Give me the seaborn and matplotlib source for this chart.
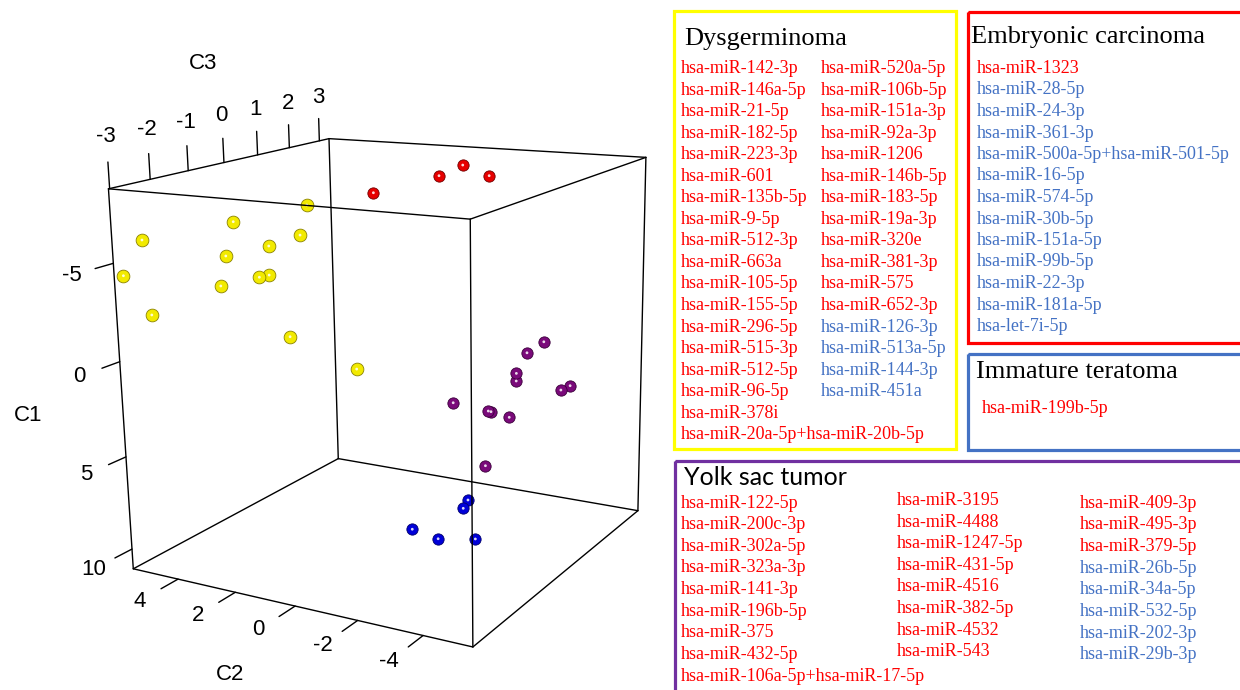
import numpy as np
import pandas as pd
import matplotlib
matplotlib.use("Agg")
import matplotlib.pyplot as plt
from matplotlib.patches import Rectangle
from mpl_toolkits.mplot3d import proj3d
import seaborn as sns

# ---------------- data: 3-D coordinates (C2, C3, C1) per tumour group ----------------
dys_c2 = [2.71, 4.74, 5.62, 3.57, 2.89, 4.68, 5.56, 3.53, 2.64, 4.39, 5.57, 2.27, 2.23]
dys_c3 = [0.00, -0.50, -2.30, 0.50, -1.00, -0.80, -2.85, -0.50, -1.50, -1.20, -2.20, -1.00, 1.00]
dys_c1 = [-6.76, -5.87, -5.76, -4.78, -5.13, -4.22, -4.28, -3.21, -3.86, -2.92, -1.84, -0.50, 2.77]

emb_c2 = [2.02, 0.42, 0.16, -1.11]
emb_c3 = [1.50, 2.20, 2.80, 2.40]
emb_c1 = [-6.78, -7.57, -7.92, -7.65]

yst_c2 = [-3.69, -3.40, -3.23, -3.14, -4.15, -4.01, -1.61, -2.49, -2.40, -3.00, -2.57]
yst_c3 = [1.50, 1.20, 1.00, 1.10, 2.00, 1.80, 0.50, 0.80, 1.00, 1.00, 0.60]
yst_c1 = [0.37, 0.80, 1.79, 2.30, 3.05, 3.16, 3.35, 3.84, 4.07, 4.23, 6.64]

imt_c2 = [-2.54, -2.57, -1.17, -1.83, -2.59]
imt_c3 = [0.00, -0.20, -0.50, -0.30, 0.20]
imt_c1 = [7.94, 8.18, 9.45, 9.98, 10.29]

c2_lim = (5.626, -5.461)
c3_lim = (-3.028, 3.334)
c1_lim = (11.091, -8.681)
c2_ticks = [4, 2, 0, -2, -4]
c3_ticks = [-3, -2, -1, 0, 1, 2, 3]
c1_ticks = [-5, 0, 5, 10]

# ---------------- data: miRNA lists (u = up / red, d = down / blue) ----------------
dys_col1 = ["hsa-miR-142-3p", "hsa-miR-146a-5p", "hsa-miR-21-5p", "hsa-miR-182-5p", "hsa-miR-223-3p",
            "hsa-miR-601", "hsa-miR-135b-5p", "hsa-miR-9-5p", "hsa-miR-512-3p", "hsa-miR-663a",
            "hsa-miR-105-5p", "hsa-miR-155-5p", "hsa-miR-296-5p", "hsa-miR-515-3p", "hsa-miR-512-5p",
            "hsa-miR-96-5p", "hsa-miR-378i", "hsa-miR-20a-5p+hsa-miR-20b-5p"]
dys_col1_dir = ["u"] * 18
dys_col2 = ["hsa-miR-520a-5p", "hsa-miR-106b-5p", "hsa-miR-151a-3p", "hsa-miR-92a-3p", "hsa-miR-1206",
            "hsa-miR-146b-5p", "hsa-miR-183-5p", "hsa-miR-19a-3p", "hsa-miR-320e", "hsa-miR-381-3p",
            "hsa-miR-575", "hsa-miR-652-3p", "hsa-miR-126-3p", "hsa-miR-513a-5p", "hsa-miR-144-3p",
            "hsa-miR-451a"]
dys_col2_dir = ["u"] * 12 + ["d"] * 4
emb_list = ["hsa-miR-1323", "hsa-miR-28-5p", "hsa-miR-24-3p", "hsa-miR-361-3p",
            "hsa-miR-500a-5p+hsa-miR-501-5p", "hsa-miR-16-5p", "hsa-miR-574-5p", "hsa-miR-30b-5p",
            "hsa-miR-151a-5p", "hsa-miR-99b-5p", "hsa-miR-22-3p", "hsa-miR-181a-5p", "hsa-let-7i-5p"]
emb_dir = ["u"] + ["d"] * 12
imt_list = ["hsa-miR-199b-5p"]
imt_dir = ["u"]
yst_col1 = ["hsa-miR-122-5p", "hsa-miR-200c-3p", "hsa-miR-302a-5p", "hsa-miR-323a-3p", "hsa-miR-141-3p",
            "hsa-miR-196b-5p", "hsa-miR-375", "hsa-miR-432-5p", "hsa-miR-106a-5p+hsa-miR-17-5p"]
yst_col1_dir = ["u"] * 9
yst_col2 = ["hsa-miR-3195", "hsa-miR-4488", "hsa-miR-1247-5p", "hsa-miR-431-5p", "hsa-miR-4516",
            "hsa-miR-382-5p", "hsa-miR-4532", "hsa-miR-543"]
yst_col2_dir = ["u"] * 8
yst_col3 = ["hsa-miR-409-3p", "hsa-miR-495-3p", "hsa-miR-379-5p", "hsa-miR-26b-5p", "hsa-miR-34a-5p",
            "hsa-miR-532-5p", "hsa-miR-202-3p", "hsa-miR-29b-3p"]
yst_col3_dir = ["u"] * 3 + ["d"] * 5

# ---------------- style ----------------
sns.set_style("white")
W, H = 1240, 690
fig = plt.figure(figsize=(12.4, 6.9), dpi=100)
fig.patch.set_facecolor("white")

ball = sns.color_palette(["#F2EA00", "#E60000", "#7A0A7A", "#0000D8"])
edge = sns.color_palette(["#8A8200", "#700000", "#3A003A", "#00006A"])
dir_color = {"u": "#FF0000", "d": "#4472C4"}
SANS = ["Liberation Sans", "DejaVu Sans"]
SERIF = ["Liberation Serif", "DejaVu Serif"]

df = pd.concat([
    pd.DataFrame({"C2": dys_c2, "C3": dys_c3, "C1": dys_c1, "group": "Dysgerminoma"}),
    pd.DataFrame({"C2": emb_c2, "C3": emb_c3, "C1": emb_c1, "group": "Embryonic carcinoma"}),
    pd.DataFrame({"C2": yst_c2, "C3": yst_c3, "C1": yst_c1, "group": "Yolk sac tumor"}),
    pd.DataFrame({"C2": imt_c2, "C3": imt_c3, "C1": imt_c1, "group": "Immature teratoma"}),
], ignore_index=True)
order = ["Dysgerminoma", "Embryonic carcinoma", "Yolk sac tumor", "Immature teratoma"]

# ---------------- 3-D scatter ----------------
ax = fig.add_axes([0.05161, 0.00123, 0.51508, 0.92566], projection="3d", computed_zorder=False)
ax.set_zorder(0)
ax.patch.set_alpha(0)
ax.set_xlim(*c2_lim)
ax.set_ylim(*c3_lim)
ax.set_zlim(*c1_lim)
ax.view_init(elev=15.266, azim=-59.358, roll=1.113)
ax.set_proj_type("persp", focal_length=0.4688)
ax.set_box_aspect((0.9996, 1.0051, 1.0))
ax.set_axis_off()
M = ax.get_proj()

x0, x1 = c2_lim
y0, y1 = c3_lim
z0, z1 = c1_lim
for (a, b) in [((x0, y0, z1), (x1, y0, z1)), ((x0, y1, z1), (x1, y1, z1)),
               ((x0, y0, z0), (x1, y0, z0)), ((x0, y1, z0), (x1, y1, z0)),
               ((x0, y0, z1), (x0, y1, z1)), ((x1, y0, z1), (x1, y1, z1)),
               ((x0, y0, z0), (x0, y1, z0)), ((x1, y0, z0), (x1, y1, z0)),
               ((x0, y0, z1), (x0, y0, z0)), ((x1, y0, z1), (x1, y0, z0)),
               ((x0, y1, z1), (x0, y1, z0)), ((x1, y1, z1), (x1, y1, z0))]:
    ax.plot([a[0], b[0]], [a[1], b[1]], [a[2], b[2]], color="black", lw=1.0, solid_capstyle="round")

tick_kw = dict(color="black", lw=1.0)
lab_kw = dict(fontsize=16, family=SANS, ha="center", va="center", color="black")


def label3d(x, y, z, s):
    px, py, _ = proj3d.proj_transform(np.array([x], float), np.array([y], float),
                                      np.array([z], float), M)
    ax.text2D(float(px[0]), float(py[0]), s, transform=ax.transData, **lab_kw)


# C3 axis (top-left edge)
for v in c3_ticks:
    ax.plot([x0, x0], [v, v], [z1, z1 - 1.29], **tick_kw)
    label3d(x0, v, z1 - 2.5, str(v))
label3d(x0, -0.45, -14.03, "C3")
# C1 axis (front-left vertical edge)
for v in c1_ticks:
    ax.plot([x0, x0], [y0, y0 - 0.435], [v, v], **tick_kw)
    label3d(x0, -3.99, v, str(v))
label3d(x0, -5.18, 0.93, "C1")
# C2 axis (bottom-front edge)
for v in c2_ticks:
    ax.plot([v, v], [y0, y0 - 0.444], [z0, z0], **tick_kw)
    label3d(v, -4.02, z0, str(v))
label3d(-0.89, -5.455, z0, "C2")

for g, fc, ec in zip(order, ball, edge):
    d = df[df["group"] == g]
    sz = 84 if g == "Dysgerminoma" else 66
    ax.scatter(d["C2"], d["C3"], d["C1"], s=sz, color=fc, edgecolors=[ec], linewidths=0.6,
               depthshade=False)
    ax.scatter(d["C2"], d["C3"], d["C1"], s=4, color="white", edgecolors="none", alpha=0.85,
               depthshade=False)

# ---------------- legend panels ----------------
ov = fig.add_axes([0, 0, 1, 1])
ov.set_zorder(2)
ov.set_xlim(0, W)
ov.set_ylim(H, 0)
ov.axis("off")
ov.patch.set_alpha(0)


def box(x, y, w, h, col):
    ov.add_patch(Rectangle((x, y), w, h, fill=False, edgecolor=col, lw=2.3, clip_on=True))


def title(x, y, s, fam=SERIF, size=19):
    ov.text(x, y, s, fontsize=size, family=fam, color="black", ha="left", va="baseline")


def column(x, y, step, names, dirs, size=13):
    for i, (n, d) in enumerate(zip(names, dirs)):
        ov.text(x, y + i * step, n, fontsize=size, family=SERIF, color=dir_color[d],
                ha="left", va="baseline")


box(673.5, 11, 282, 438, "#FFFF00")
title(684, 45, "Dysgerminoma")
column(681, 73, 21.55, dys_col1, dys_col1_dir)
column(820.5, 73, 21.55, dys_col2, dys_col2_dir)

box(967.5, 11.7, 300, 331.6, "#FF0000")
title(971, 42.5, "Embryonic carcinoma")
column(977, 73, 21.5, emb_list, emb_dir)

box(967.5, 354, 300, 96, "#4472C4")
title(976, 378, "Immature teratoma")
column(981.5, 413, 21.5, imt_list, imt_dir)

box(674.5, 461, 600, 260, "#7030A0")
title(683.5, 485, "Yolk sac tumor", fam=["Lato", "DejaVu Sans"], size=18)
column(680.5, 507.5, 21.65, yst_col1, yst_col1_dir)
column(896.5, 505, 21.6, yst_col2, yst_col2_dir)
column(1080, 507.5, 21.7, yst_col3, yst_col3_dir)

fig.savefig("out.png", dpi=100)
